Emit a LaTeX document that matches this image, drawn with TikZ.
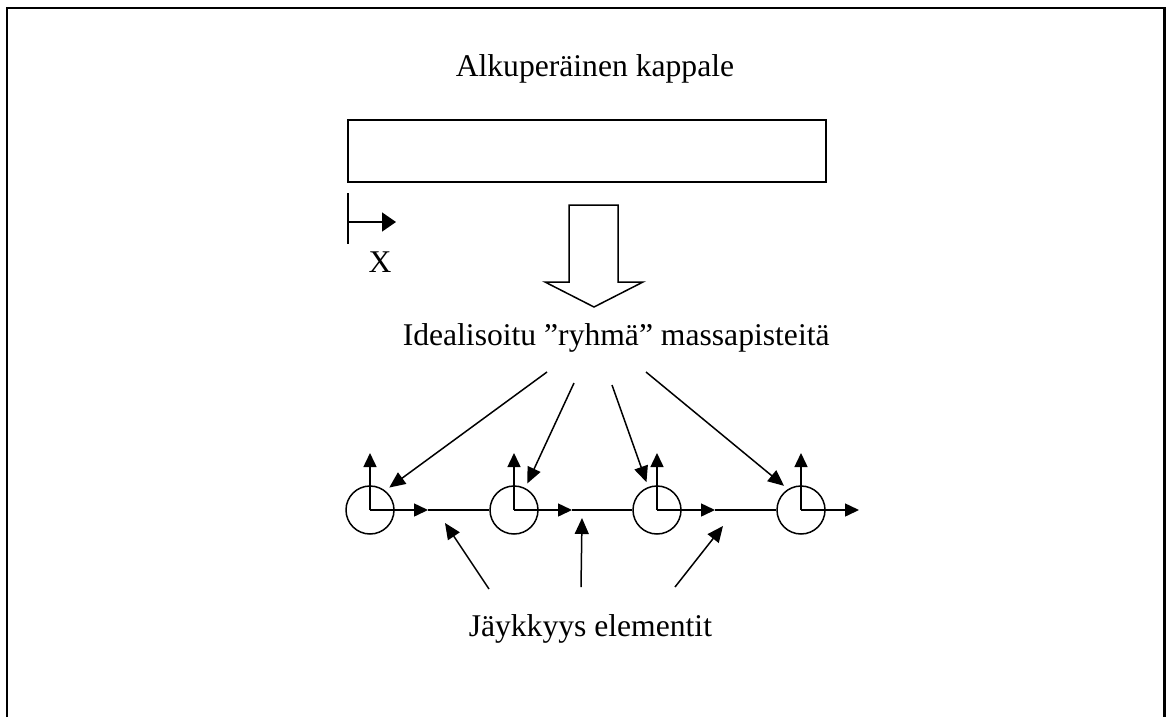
\documentclass[tikz,border=0pt]{standalone}
\usepackage{fontspec}
\setmainfont{Liberation Serif}
\usetikzlibrary{arrows.meta}
\tikzset{
  lbl/.style={font=\fontsize{18}{21}\selectfont, anchor=base west, inner sep=0pt},
  mass/.style={draw, circle, inner sep=0pt, minimum size=0.96cm},
  pointer/.style={-{Triangle[length=0.32cm,width=0.28cm]}},
}
\begin{document}
\begin{tikzpicture}[x=0.02cm,y=-0.02cm,line width=0.03cm,
    >={Triangle[length=0.28cm,width=0.26cm]}]
        \useasboundingbox (0,0) rectangle (1166,717);
        \draw[line width=0.05cm] (7,717) -- (7,8) -- (1164.5,8) -- (1164.5,717);
        % original body
        \node[lbl] (title) at (455,76) {Alkuperäinen kappale};
        \draw (348,120) rectangle (826,182);
        \draw (348,193) -- (348,244);
        \draw[-{Triangle[length=0.28cm,width=0.38cm]}] (348,222) -- (396,222);
        \node[lbl,anchor=base] (xlab) at (380,272) {X};
        \draw (569,205) -- (618,205) -- (618,282) -- (643,282) -- (594,307)
            -- (545,282) -- (569,282) -- cycle;
        % masses
        \node[lbl] (ideal) at (402,345) {Idealisoitu ”ryhmä” massapisteitä};
        \foreach \i/\x in {1/370,2/514,3/657,4/801} {
            \node[mass] (m\i) at (\x,510) {};
            \coordinate (h\i) at (\x+58,510);
            \coordinate (v\i) at (\x,453);
            \draw[->] (m\i.center) -- (h\i);
            \draw[->] (m\i.center) -- (v\i);
        }
        \foreach \i/\j in {1/2,2/3,3/4}
            \draw (h\i) -- (m\j.west);
        \coordinate (t1) at (547,372);
        \coordinate (t2) at (574,383);
        \coordinate (t3) at (612,385);
        \coordinate (t4) at (646,372);
        \foreach \i/\a in {1/52,2/63,3/111,4/122}
            \draw[pointer,shorten >=0.1cm] (t\i) -- (m\i.\a);
        % stiffness
        \node[lbl] (stiff) at (468,636) {Jäykkyys elementit};
        \coordinate (b1) at (489,589);
        \coordinate (b2) at (581,587);
        \coordinate (b3) at (675,587);
        \coordinate (k1) at (445,523);
        \coordinate (k2) at (582,518);
        \coordinate (k3) at (723,526);
        \foreach \i in {1,2,3}
            \draw[pointer] (b\i) -- (k\i);
    \end{tikzpicture}
\end{document}
